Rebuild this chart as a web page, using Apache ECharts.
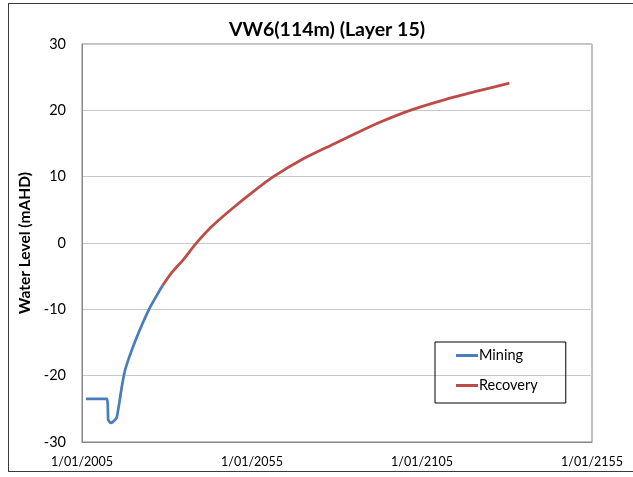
<!DOCTYPE html>
<html>
<head>
<meta charset="utf-8">
<script src="https://cdn.jsdelivr.net/npm/echarts@6/dist/echarts.min.js"></script>
<style>
html,body{margin:0;padding:0;background:#fff;}
#frame{position:absolute;left:8px;top:3px;width:640px;height:469px;border:1px solid #3a3a3a;box-sizing:border-box;}
#chart{position:absolute;left:0;top:0;width:633px;height:477px;}
</style>
</head>
<body>
<div id="frame"></div>
<div id="chart"></div>
<script>
var chartTitle = 'VW6(114m) (Layer 15)';
var yAxisTitle = 'Water Level (mAHD)';
var seriesNames = ['Mining', 'Recovery'];
var xTickLabels = ['1/01/2005', '1/01/2055', '1/01/2105', '1/01/2155'];
var yTicks = [-30, -20, -10, 0, 10, 20, 30];

var miningYears  = [2006.2, 2012.3, 2012.7, 2013.3, 2014.0, 2015.2, 2016.0, 2016.7, 2017.6, 2019.1, 2021.1, 2023.0, 2025.0, 2027.0, 2028.7];
var miningLevels = [-23.5, -23.5, -26.6, -27.1, -27.0, -26.3, -24.0, -21.7, -19.3, -16.9, -14.2, -11.9, -9.7, -7.9, -6.4];

var recoveryYears  = [2028.7, 2031.5, 2034.8, 2038.5, 2043.0, 2048.5, 2055.0, 2061.3, 2070.1, 2078.9, 2085.0, 2092.6, 2101.5, 2112.3, 2122.1, 2130.7];
var recoveryLevels = [-6.4, -4.4, -2.5, -0.1, 2.4, 4.9, 7.6, 10.0, 12.7, 14.9, 16.4, 18.2, 20.0, 21.7, 23.0, 24.1];

function pairs(xs, ys) { return xs.map(function (x, i) { return [x, ys[i]]; }); }

var font = 'Lato, "Liberation Sans", sans-serif';
var chart = echarts.init(document.getElementById('chart'), null, {renderer: 'canvas'});
chart.setOption({
  animation: false,
  backgroundColor: 'transparent',
  title: {
    text: chartTitle, left: 322, top: 15, textAlign: 'center',
    textStyle: {fontFamily: font, fontSize: 19.5, fontWeight: 'bold', color: '#000'}
  },
  grid: {left: 82, right: 41, top: 44, bottom: 35, show: true, borderColor: '#868686', borderWidth: 1, backgroundColor: 'transparent'},
  legend: {
    orient: 'vertical', left: 435, top: 342,
    data: seriesNames, itemWidth: 22, itemHeight: 3, itemGap: 15,
    padding: [6, 28, 10, 21],
    borderColor: '#000', borderWidth: 1,
    icon: 'rect',
    textStyle: {fontFamily: font, fontSize: 14.5, color: '#000', padding: [0, 0, 0, -4]}
  },
  xAxis: {
    type: 'value', min: 2005, max: 2155, interval: 50,
    axisLine: {show: true, onZero: false, lineStyle: {color: '#868686'}},
    axisTick: {show: false},
    splitLine: {show: false},
    axisLabel: {
      fontFamily: font, fontSize: 12.5, color: '#000', margin: 13,
      formatter: function (v) { return xTickLabels[Math.round((v - 2005) / 50)]; }
    }
  },
  yAxis: {
    type: 'value', min: yTicks[0], max: yTicks[yTicks.length - 1], interval: 10,
    name: yAxisTitle, nameLocation: 'middle', nameGap: 44, nameRotate: 90,
    nameTextStyle: {fontFamily: font, fontSize: 15.5, fontWeight: 'bold', color: '#000'},
    axisLine: {show: true, lineStyle: {color: '#868686'}},
    axisTick: {show: false},
    splitLine: {show: true, lineStyle: {color: '#c8c8c8', width: 1}},
    axisLabel: {fontFamily: font, fontSize: 14.5, color: '#000', margin: 16}
  },
  series: [
    {name: seriesNames[0], type: 'line', data: pairs(miningYears, miningLevels), showSymbol: false, smooth: 0.15,
     lineStyle: {color: '#4a7ebb', width: 2.75}, itemStyle: {color: '#4a7ebb'}},
    {name: seriesNames[1], type: 'line', data: pairs(recoveryYears, recoveryLevels), showSymbol: false, smooth: 0.25,
     lineStyle: {color: '#be4b48', width: 2.75}, itemStyle: {color: '#be4b48'}}
  ]
});
</script>
</body>
</html>
